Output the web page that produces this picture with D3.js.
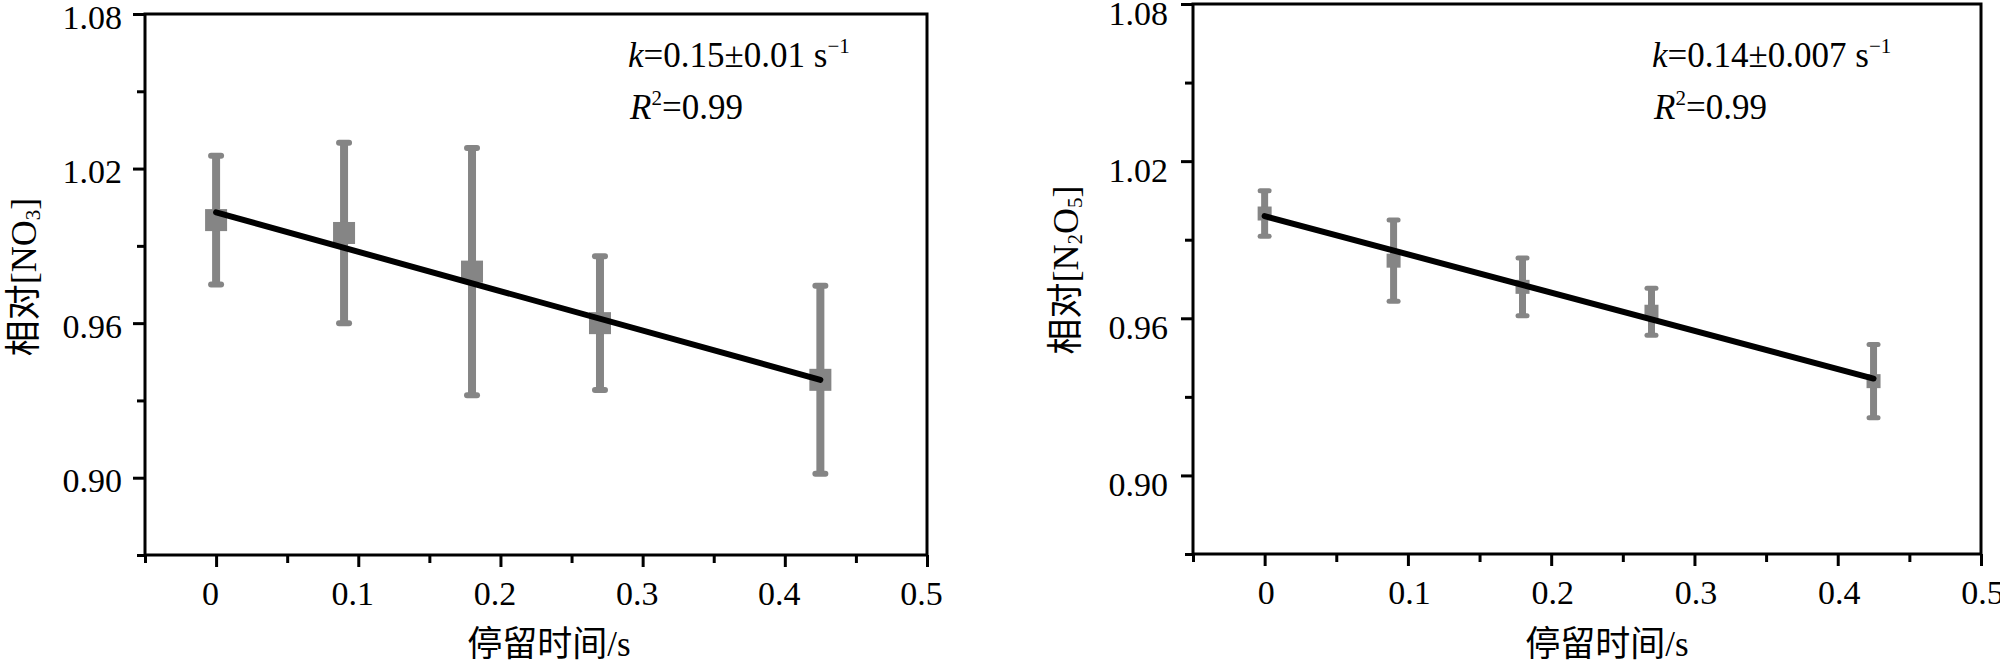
<!DOCTYPE html>
<html>
<head>
<meta charset="utf-8">
<script src="https://cdn.jsdelivr.net/npm/d3@7/dist/d3.min.js"></script>
<style>
  html, body { margin: 0; padding: 0; background: #fff; }
  svg { display: block; }
</style>
</head>
<body>
<svg id="chart" width="2000" height="664"></svg>
<script>
// ---------------- data ----------------
const residenceTime = [0, 0.09, 0.18, 0.27, 0.425];          // 停留时间 / s
const no3Relative   = [1.000, 0.995, 0.980, 0.960, 0.938];   // 相对[NO3]
const no3Error      = [0.025, 0.035, 0.048, 0.026, 0.0365];
const n2o5Relative  = [1.000, 0.982, 0.972, 0.9625, 0.936];  // 相对[N2O5]
const n2o5Error     = [0.0087, 0.0155, 0.011, 0.009, 0.014];
const fitTime       = [0, 0.425];
const no3Fit        = [1.003, 0.938];
const n2o5Fit       = [0.999, 0.937];
const yMajorTicks   = [0.90, 0.96, 1.02, 1.08];
const yMinorTicks   = [0.87, 0.93, 0.99, 1.05];
const xMajorTicks   = [0, 0.1, 0.2, 0.3, 0.4, 0.5];
const xMinorTicks   = [-0.05, 0.05, 0.15, 0.25, 0.35, 0.45];
const xDomain       = [-0.05, 0.5];
const yDomain       = [0.87, 1.08];
const xTitle        = "停留时间/s";
const no3Annot      = { k: "0.15±0.01", r2: "0.99" };
const n2o5Annot     = { k: "0.14±0.007", r2: "0.99" };

// ---------------- layout ----------------
const SERIF = "'Liberation Serif', Tinos, 'Times New Roman', 'DejaVu Serif', 'Noto Sans CJK SC', serif";
const panels = [
  { values: no3Relative, errors: no3Error, fit: no3Fit, annot: no3Annot,
    x0: 145, x1: 927, yTop: 14, yBot: 555, marker: 22, stem: 8, capW: 10, capT: 6,
    xLabelDx: -6, xTitleX: 549, yTitleX: 24, yTitleY: 277, annotX: 628, species: "NO3",
    yLabelPad: 11, yLabelDy: 14 },
  { values: n2o5Relative, errors: n2o5Error, fit: n2o5Fit, annot: n2o5Annot,
    x0: 1193, x1: 1981, yTop: 4, yBot: 554, marker: 14, stem: 7, capW: 9, capT: 5,
    xLabelDx: 1, xTitleX: 1607, yTitleX: 1066, yTitleY: 270, annotX: 1652, species: "N2O5",
    yLabelPad: 13, yLabelDy: 20 }
];

const svg = d3.select("#chart");
const GRAY = "#858585";

panels.forEach(p => {
  const x = d3.scaleLinear().domain(xDomain).range([p.x0, p.x1]);
  const y = d3.scaleLinear().domain(yDomain).range([p.yBot, p.yTop]);
  const g = svg.append("g");

  // frame
  g.append("rect")
    .attr("x", p.x0).attr("y", p.yTop)
    .attr("width", p.x1 - p.x0).attr("height", p.yBot - p.yTop)
    .attr("fill", "none").attr("stroke", "#000").attr("stroke-width", 3);

  // y axis major
  const yAxis = g.append("g").attr("transform", `translate(${p.x0},0)`)
    .call(d3.axisLeft(y).tickValues(yMajorTicks).tickSize(12).tickSizeOuter(0)
      .tickPadding(p.yLabelPad).tickFormat(d3.format(".2f")));
  yAxis.select(".domain").remove();
  yAxis.selectAll("line").attr("stroke", "#000").attr("stroke-width", 3);
  yAxis.selectAll("text").attr("dy", p.yLabelDy)
    .style("font-family", SERIF).style("font-size", "34px");
  // y axis minor
  const yMin = g.append("g").attr("transform", `translate(${p.x0},0)`)
    .call(d3.axisLeft(y).tickValues(yMinorTicks).tickSize(8).tickSizeOuter(0).tickFormat(""));
  yMin.select(".domain").remove();
  yMin.selectAll("line").attr("stroke", "#000").attr("stroke-width", 3);

  // x axis major
  const xAxis = g.append("g").attr("transform", `translate(0,${p.yBot})`)
    .call(d3.axisBottom(x).tickValues(xMajorTicks).tickSize(12).tickSizeOuter(0)
      .tickPadding(14).tickFormat(d => d === 0 ? "0" : d3.format(".1f")(d)));
  xAxis.select(".domain").remove();
  xAxis.selectAll("line").attr("stroke", "#000").attr("stroke-width", 3);
  xAxis.selectAll("text").attr("dx", p.xLabelDx).attr("dy", "0.72em")
    .style("font-family", SERIF).style("font-size", "34px");
  const xMin = g.append("g").attr("transform", `translate(0,${p.yBot})`)
    .call(d3.axisBottom(x).tickValues(xMinorTicks).tickSize(8).tickSizeOuter(0).tickFormat(""));
  xMin.select(".domain").remove();
  xMin.selectAll("line").attr("stroke", "#000").attr("stroke-width", 3);

  // error bars
  const pts = residenceTime.map((t, i) => ({ t, v: p.values[i], e: p.errors[i] }));
  const eb = g.append("g");
  eb.selectAll("line.stem").data(pts).join("line").attr("class", "stem")
    .attr("x1", d => x(d.t)).attr("x2", d => x(d.t))
    .attr("y1", d => y(d.v + d.e)).attr("y2", d => y(d.v - d.e))
    .attr("stroke", GRAY).attr("stroke-width", p.stem);
  ["top", "bot"].forEach(side => {
    eb.selectAll("line.cap-" + side).data(pts).join("line").attr("class", "cap-" + side)
      .attr("x1", d => x(d.t) - p.capW / 2).attr("x2", d => x(d.t) + p.capW / 2)
      .attr("y1", d => y(side === "top" ? d.v + d.e : d.v - d.e))
      .attr("y2", d => y(side === "top" ? d.v + d.e : d.v - d.e))
      .attr("stroke", GRAY).attr("stroke-width", p.capT).attr("stroke-linecap", "round");
  });
  // markers
  g.append("g").selectAll("rect").data(pts).join("rect")
    .attr("x", d => x(d.t) - p.marker / 2).attr("y", d => y(d.v) - p.marker / 2)
    .attr("width", p.marker).attr("height", p.marker).attr("fill", GRAY);

  // fit line
  const fitPts = fitTime.map((t, i) => [t, p.fit[i]]);
  g.append("path").datum(fitPts)
    .attr("d", d3.line().x(d => x(d[0])).y(d => y(d[1])))
    .attr("fill", "none").attr("stroke", "#000").attr("stroke-width", 6)
    .attr("stroke-linecap", "round");

  // annotation
  const a1 = g.append("text").attr("x", p.annotX).attr("y", 67)
    .style("font-family", SERIF).style("font-size", "35px");
  a1.append("tspan").attr("font-style", "italic").text("k");
  a1.append("tspan").text("=" + p.annot.k + " s");
  a1.append("tspan").style("font-size", "21px").attr("dy", -14).text("−1");
  const a2 = g.append("text").attr("x", p.annotX + 2).attr("y", 119)
    .style("font-family", SERIF).style("font-size", "35px");
  a2.append("tspan").attr("font-style", "italic").text("R");
  a2.append("tspan").style("font-size", "21px").attr("dy", -14).text("2");
  a2.append("tspan").attr("dy", 14).text("=" + p.annot.r2);

  // x title
  g.append("text").attr("x", p.xTitleX).attr("y", 656).attr("text-anchor", "middle")
    .style("font-family", SERIF).style("font-size", "35px").text(xTitle);

  // y title
  const yt = g.append("text")
    .attr("transform", `translate(${p.yTitleX},${p.yTitleY}) rotate(-90)`)
    .attr("text-anchor", "middle").attr("dominant-baseline", "central")
    .style("font-family", SERIF).style("font-size", "36px");
  if (p.species === "NO3") {
    yt.append("tspan").text("相对[NO");
    yt.append("tspan").style("font-size", "21px").attr("dy", 9).text("3");
    yt.append("tspan").attr("dy", -9).text("]");
  } else {
    yt.append("tspan").text("相对[N");
    yt.append("tspan").style("font-size", "21px").attr("dy", 9).text("2");
    yt.append("tspan").attr("dy", -9).text("O");
    yt.append("tspan").style("font-size", "21px").attr("dy", 9).text("5");
    yt.append("tspan").attr("dy", -9).text("]");
  }
});
</script>
</body>
</html>
